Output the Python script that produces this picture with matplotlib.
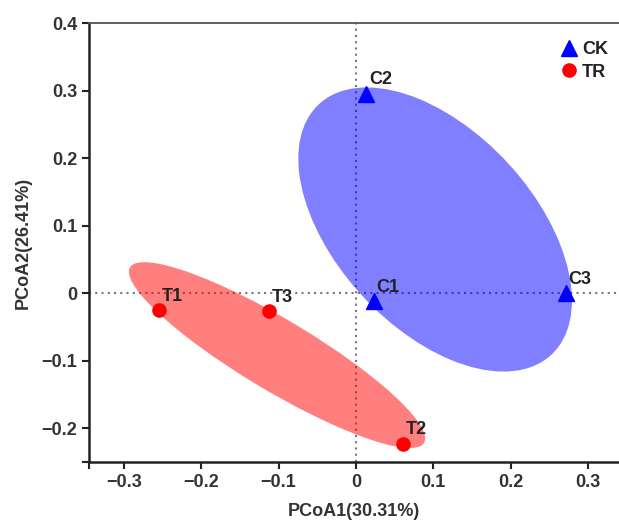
import numpy as np
import matplotlib
matplotlib.use('Agg')
import matplotlib.pyplot as plt
from matplotlib.patches import Ellipse

plt.rcParams['font.family'] = ['Liberation Sans', 'DejaVu Sans']
plt.rcParams['font.weight'] = 'bold'

# sample scores
ck_names = ['C1', 'C2', 'C3']
ck_x = [0.023, 0.013, 0.271]
ck_y = [-0.012, 0.295, 0.000]

tr_names = ['T1', 'T2', 'T3']
tr_x = [-0.255, 0.061, -0.112]
tr_y = [-0.025, -0.223, -0.027]

x_ticks = [-0.3, -0.2, -0.1, 0, 0.1, 0.2, 0.3]
x_labels = ['\u22120.3', '\u22120.2', '\u22120.1', '0', '0.1', '0.2', '0.3']
y_ticks = [-0.2, -0.1, 0, 0.1, 0.2, 0.3, 0.4]
y_labels = ['\u22120.2', '\u22120.1', '0', '0.1', '0.2', '0.3', '0.4']


def conf_ellipse(ax, x, y, color, k=1.21):
    x = np.asarray(x)
    y = np.asarray(y)
    cov = np.cov(x, y)
    vals, vecs = np.linalg.eigh(cov)
    order = vals.argsort()[::-1]
    vals, vecs = vals[order], vecs[:, order]
    angle = np.degrees(np.arctan2(vecs[1, 0], vecs[0, 0]))
    w, h = 2 * k * np.sqrt(vals)
    e = Ellipse((x.mean(), y.mean()), w, h, angle=angle,
                facecolor=color, edgecolor='none', alpha=0.5, zorder=2)
    ax.add_patch(e)


fig = plt.figure(figsize=(6.19, 5.25), dpi=100)
ax = fig.add_axes([0.1438, 0.12, 0.8562, 0.836])

ax.axvline(0, color='#777777', lw=1.5, ls=(0, (1, 2)), zorder=1)
ax.axhline(0, color='#777777', lw=1.5, ls=(0, (1, 2)), zorder=1)

conf_ellipse(ax, ck_x, ck_y, '#0000ff')
conf_ellipse(ax, tr_x, tr_y, '#ff0000')

ax.plot(ck_x, ck_y, ls='none', marker='^', ms=12, color='#0000ff',
        label='CK', zorder=3)
ax.plot(tr_x, tr_y, ls='none', marker='o', ms=9.5, color='#ff0000',
        label='TR', zorder=3)

for names, xs, ys in [(ck_names, ck_x, ck_y), (tr_names, tr_x, tr_y)]:
    for n, xx, yy in zip(names, xs, ys):
        ax.annotate(n, (xx, yy), xytext=(2, 4), textcoords='offset points',
                    ha='left', va='bottom', fontsize=13, fontweight='bold',
                    color='#222222', zorder=4)

ax.set_xlim(-0.345, 0.34)
ax.set_ylim(-0.25, 0.4)
ax.set_xticks(x_ticks)
ax.set_xticklabels(x_labels)
ax.set_yticks(y_ticks)
ax.set_yticklabels(y_labels)
ax.set_xticks([-0.345], minor=True)
ax.set_yticks([-0.25], minor=True)
ax.tick_params(which='both', direction='out', length=5, width=1.5,
               labelsize=13, labelcolor='#333333', color='#222222')

for s in ['left', 'bottom']:
    ax.spines[s].set_linewidth(1.8)
    ax.spines[s].set_color('#222222')
ax.spines['top'].set_linewidth(1.3)
ax.spines['top'].set_color('#555555')
ax.spines['right'].set_visible(False)

ax.set_xlabel('PCoA1(30.31%)', fontsize=13, fontweight='bold',
              color='#333333', labelpad=9)
ax.set_ylabel('PCoA2(26.41%)', fontsize=13, fontweight='bold',
              color='#333333', labelpad=7)

leg = ax.legend(loc='upper right', frameon=False, fontsize=13,
                handletextpad=0.15, borderaxespad=0.0, labelspacing=0.3,
                handlelength=1.2, bbox_to_anchor=(0.993, 0.975))
for t in leg.get_texts():
    t.set_color('#222222')

fig.savefig('out.png', dpi=100)
